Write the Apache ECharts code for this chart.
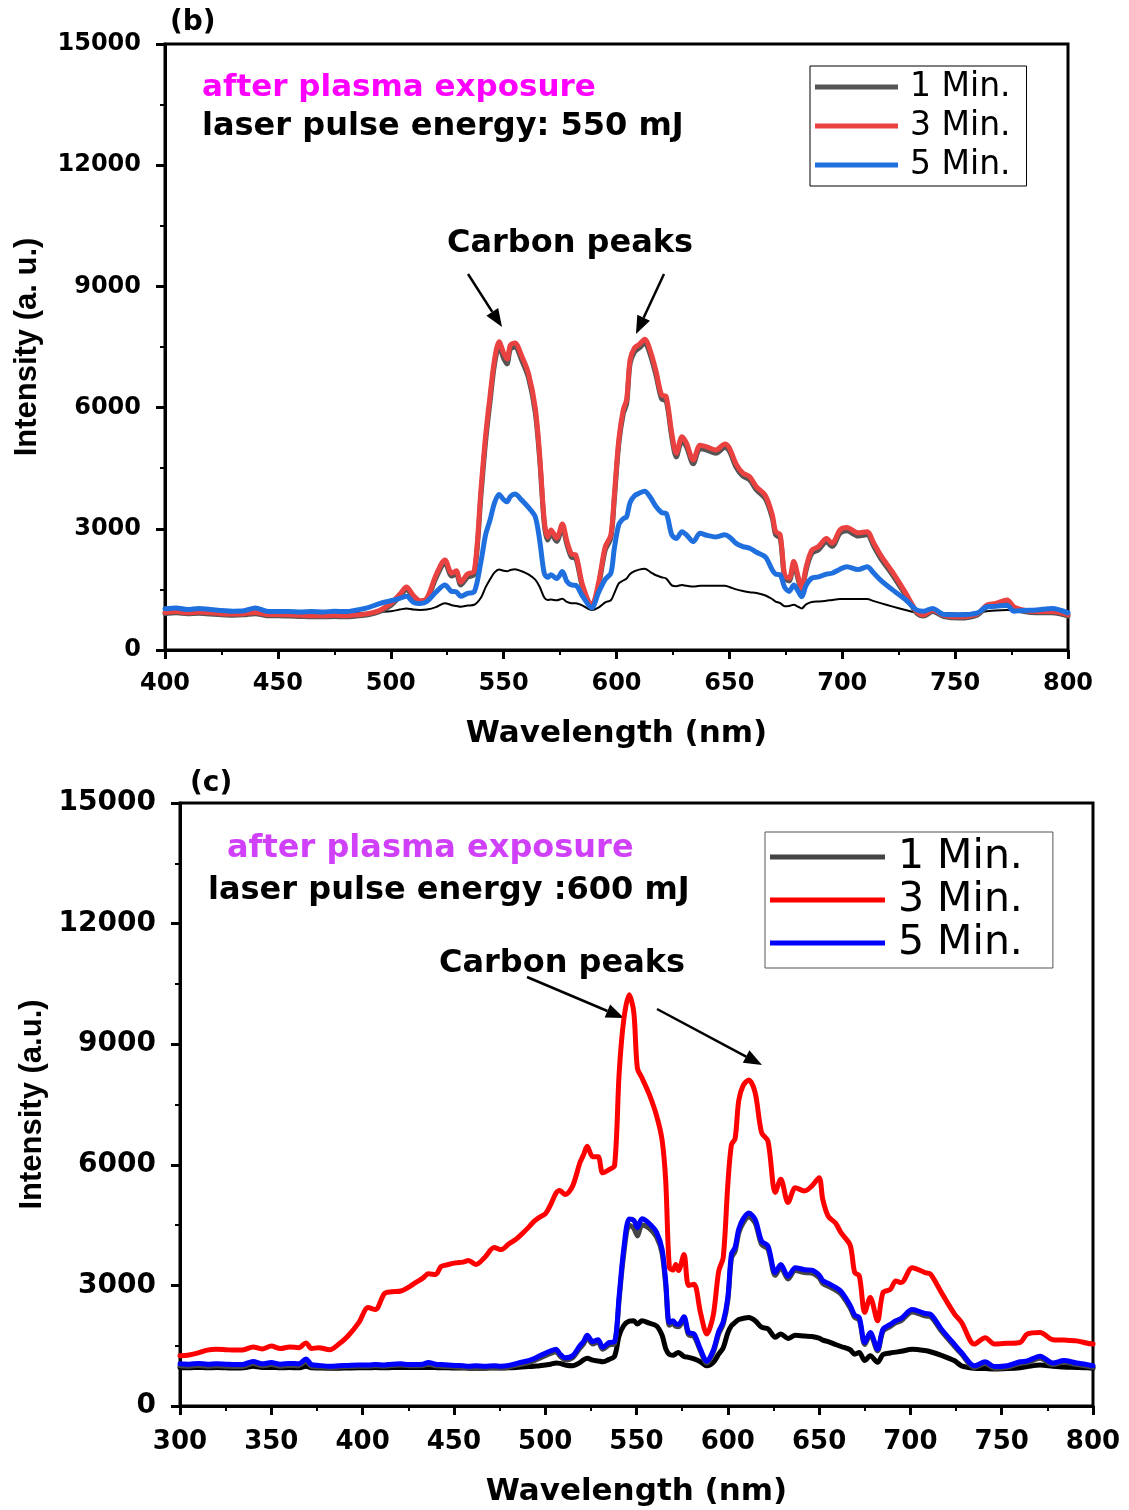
<!DOCTYPE html>
<html>
<head>
<meta charset="utf-8">
<script src="https://cdn.jsdelivr.net/npm/echarts@6.0.0/dist/echarts.min.js"></script>
<style>
  html, body { margin: 0; padding: 0; background: #fff; }
  #chart { width: 1129px; height: 1510px; }
</style>
</head>
<body>
<div id="chart"></div>
<script>
// ---- panel (b): laser pulse energy 550 mJ ----
const wavelengthB = [
  400, 405, 410, 415, 420, 425, 430, 435, 440, 445,
  450, 455, 460, 465, 470, 475, 480, 485, 490, 495,
  500, 504, 507, 510, 513, 516, 520, 524, 527, 529,
  531, 534, 537, 540, 542, 544, 546, 548, 550, 551.5,
  553, 555, 558, 561, 564, 566, 568, 569.5, 571, 573.5,
  576, 578, 580, 582, 585, 589, 592, 595, 597.5, 599,
  601, 603, 604.5, 606, 608, 610, 612.5, 615, 617.5, 620,
  622, 624.5, 626.5, 629, 631, 634, 637, 640, 644, 648,
  650, 653, 656, 659, 662, 666, 669, 670.5, 672.5, 674.5,
  676.5, 678.5, 680.5, 682, 684, 686.5, 689.5, 693, 695.5, 699,
  702, 707, 711, 714, 717, 722, 728, 733, 736, 740,
  745, 752, 760, 764, 768, 773, 776, 780, 786, 793,
  800
];
const b1Min = [
  900, 920, 900, 910, 890, 870, 860, 870, 900, 850,
  850, 840, 830, 820, 820, 830, 820, 840, 870, 950,
  1100, 1330, 1500, 1300, 1170, 1230, 1780, 2150, 1830, 1890,
  1610, 1800, 1870, 3850, 5150, 6150, 7080, 7520, 7220, 7080,
  7450, 7500, 7170, 6740, 5880, 4700, 3120, 2720, 2880, 2690,
  3030, 2620, 2300, 2270, 1540, 1060, 1580, 2470, 2770, 3700,
  5100, 5850, 6100, 7080, 7380, 7470, 7600, 7300, 6800, 6210,
  6170, 5260, 4780, 5180, 5030, 4610, 4980, 4950, 4870, 5010,
  4920, 4520, 4300, 4210, 3960, 3740, 3270, 2850, 2770, 1780,
  1710, 2110, 1740, 1470, 1980, 2390, 2480, 2680, 2560, 2890,
  2950, 2820, 2850, 2560, 2270, 1880, 1360, 910, 840, 950,
  830, 790, 870, 1070, 1110, 1200, 1030, 960, 920, 920,
  840
];
const b3Min = [
  930, 950, 920, 940, 920, 900, 890, 900, 930, 880,
  880, 870, 860, 850, 850, 860, 850, 870, 900, 980,
  1150, 1380, 1560, 1350, 1220, 1280, 1850, 2230, 1900, 1960,
  1680, 1880, 1950, 4000, 5300, 6300, 7200, 7630, 7350, 7200,
  7550, 7600, 7280, 6850, 6000, 4800, 3200, 2800, 2970, 2770,
  3120, 2700, 2380, 2350, 1600, 1100, 1650, 2550, 2850, 3800,
  5200, 5950, 6200, 7180, 7480, 7560, 7690, 7400, 6900, 6310,
  6270, 5360, 4870, 5280, 5120, 4700, 5070, 5030, 4950, 5100,
  5000, 4600, 4380, 4290, 4040, 3820, 3350, 2930, 2850, 1850,
  1780, 2190, 1810, 1530, 2050, 2470, 2560, 2760, 2640, 2970,
  3030, 2900, 2930, 2640, 2350, 1950, 1420, 950, 870, 990,
  860, 820, 900, 1110, 1150, 1240, 1070, 990, 950, 950,
  870
];
const b5Min = [
  1020, 1040, 1000, 1030, 1000, 980, 960, 970, 1040, 960,
  950, 950, 940, 950, 940, 960, 950, 990, 1050, 1150,
  1220, 1280, 1330, 1180, 1150, 1200, 1430, 1610, 1450, 1440,
  1330, 1400, 1440, 2200, 2850, 3220, 3650, 3850, 3720, 3670,
  3800, 3860, 3710, 3530, 3300, 2700, 1900, 1800, 1860, 1770,
  1940, 1700, 1610, 1600, 1330, 1040, 1420, 1750, 1900, 2500,
  3100, 3250, 3300, 3650, 3820, 3880, 3930, 3780, 3550, 3400,
  3380, 2850, 2760, 2930, 2850, 2680, 2890, 2840, 2800, 2850,
  2800, 2640, 2560, 2520, 2420, 2300, 1980, 1880, 1860, 1550,
  1450, 1610, 1450, 1320, 1600, 1780, 1810, 1880, 1900, 2000,
  2060, 1990, 2060, 1900, 1730, 1500, 1250, 990, 960, 1030,
  880, 870, 920, 1070, 1080, 1110, 960, 980, 990, 1030,
  920
];
const bBaseline = [
  940, 950, 940, 945, 940, 935, 930, 930, 935, 930,
  925, 920, 915, 915, 910, 910, 910, 915, 920, 940,
  960, 1000, 1030, 1000, 990, 1000, 1060, 1160, 1110, 1090,
  1070, 1100, 1120, 1300, 1550, 1750, 1920, 1990, 1960, 1950,
  1980, 2000, 1950, 1870, 1740, 1560, 1300, 1240, 1250, 1230,
  1270, 1190, 1160, 1160, 1100, 990, 1050, 1180, 1230, 1400,
  1650, 1720, 1770, 1880, 1950, 1990, 2010, 1930, 1850, 1800,
  1770, 1600, 1580, 1610, 1590, 1570, 1590, 1590, 1590, 1590,
  1560, 1500, 1460, 1430, 1410, 1350, 1260, 1200, 1160, 1080,
  1090, 1120, 1070, 1030, 1130, 1190, 1200, 1220, 1240, 1260,
  1260, 1260, 1260, 1210, 1160, 1080, 990, 920, 910, 920,
  910, 900, 930, 960, 980, 990, 980, 970, 950, 930,
  920
];

// ---- panel (c): laser pulse energy 600 mJ ----
const wavelengthC = [
  300, 305, 310, 315, 320, 325, 330, 335, 340, 345,
  350, 355, 360, 365, 369, 372, 376, 382, 387, 392,
  398, 403, 407, 412, 416, 421, 425, 429, 433, 436,
  440, 443, 447, 451, 455, 458, 462, 467, 472, 476,
  480, 484, 487, 491, 494, 497, 500, 503, 506, 508,
  511, 515, 519, 521, 523, 526, 529, 531.5, 535, 538,
  540.5, 543, 546, 548.5, 550.5, 553, 557, 561, 564, 566,
  568, 570, 571.5, 573, 576, 578.5, 581.5, 585, 588.5, 592,
  595, 597.5, 600, 602, 604, 606, 608.5, 611.5, 615, 618.5,
  622, 626, 629, 633, 637, 642, 646, 650, 652, 655,
  659, 662, 667, 669.5, 672, 675, 678, 682, 685, 689,
  692, 695, 701, 708, 711, 717, 724, 728, 735, 741,
  746, 753, 760, 764, 771, 778, 784, 791, 797, 800
];
const c1Min = [
  1000, 990, 1010, 990, 1000, 990, 980, 990, 1060, 1000,
  1030, 990, 1010, 1000, 1110, 980, 970, 960, 970, 980,
  990, 990, 1000, 990, 1010, 1020, 1000, 1000, 1010, 1040,
  1000, 990, 980, 970, 960, 950, 960, 950, 960, 950,
  970, 1010, 1040, 1080, 1130, 1190, 1250, 1310, 1350, 1250,
  1150, 1200, 1440, 1540, 1700, 1540, 1590, 1410, 1520, 1550,
  2650, 3780, 4500, 4420, 4230, 4500, 4420, 4200, 3800, 3000,
  2010, 2050, 1980, 1970, 2150, 1770, 1730, 1370, 1070, 1330,
  1790, 2040, 2620, 3680, 3850, 4300, 4560, 4700, 4550, 4020,
  3900, 3250, 3450, 3160, 3370, 3320, 3310, 3190, 3050, 2980,
  2880, 2780, 2440, 2200, 2140, 1530, 1780, 1370, 1860, 1980,
  2070, 2120, 2340, 2240, 2220, 1860, 1490, 1290, 960, 1060,
  940, 960, 1060, 1080, 1190, 1030, 1090, 1030, 990, 960
];
const c3Min = [
  1250, 1270, 1320, 1390, 1410, 1400, 1390, 1400, 1470, 1420,
  1490, 1430, 1470, 1450, 1570, 1430, 1450, 1400, 1540, 1740,
  2080, 2450, 2400, 2800, 2840, 2860, 2950, 3070, 3180, 3290,
  3270, 3470, 3520, 3560, 3580, 3620, 3520, 3700, 3940, 3890,
  4030, 4150, 4270, 4450, 4600, 4700, 4780, 5010, 5300, 5360,
  5260, 5470, 6050, 6250, 6460, 6200, 6200, 5800, 5880, 5980,
  8280, 9600, 10230, 9800, 8400, 8160, 7750, 7220, 6620, 5600,
  3450, 3380, 3520, 3370, 3770, 3000, 3030, 2330, 1790, 2250,
  3350, 3700, 5500, 6500, 6650, 7600, 7980, 8110, 7790, 6800,
  6590, 5310, 5640, 5060, 5430, 5350, 5470, 5680, 5140, 4720,
  4550, 4310, 4000, 3320, 3240, 2330, 2700, 2120, 2820, 2900,
  3110, 3070, 3440, 3320, 3280, 2820, 2300, 2080, 1540, 1700,
  1540, 1560, 1580, 1790, 1830, 1650, 1640, 1620, 1560, 1540
];
const c5Min = [
  1050, 1040, 1060, 1040, 1050, 1040, 1030, 1040, 1110, 1050,
  1080, 1040, 1060, 1050, 1170, 1030, 1010, 990, 1000, 1010,
  1020, 1020, 1030, 1020, 1040, 1050, 1030, 1030, 1040, 1080,
  1040, 1030, 1020, 1010, 1000, 990, 1000, 990, 1000, 990,
  1010, 1050, 1090, 1130, 1180, 1250, 1310, 1370, 1410, 1300,
  1200, 1250, 1500, 1600, 1760, 1600, 1650, 1460, 1580, 1600,
  2740, 3900, 4650, 4620, 4440, 4660, 4540, 4320, 3900, 3100,
  2080, 2120, 2040, 2030, 2220, 1830, 1790, 1415, 1110, 1380,
  1850, 2100, 2700, 3780, 3950, 4400, 4660, 4800, 4640, 4100,
  3980, 3320, 3520, 3230, 3440, 3390, 3380, 3260, 3120, 3050,
  2950, 2850, 2500, 2260, 2200, 1580, 1830, 1415, 1910, 2030,
  2120, 2180, 2400, 2300, 2280, 1910, 1540, 1330, 1000, 1100,
  980, 1000, 1100, 1120, 1240, 1070, 1130, 1070, 1030, 1000
];
const cBaseline = [
  960, 950, 960, 950, 955, 950, 945, 950, 990, 955,
  960, 950, 955, 950, 990, 950, 945, 940, 940, 945,
  950, 950, 955, 950, 955, 960, 955, 955, 955, 960,
  955, 950, 950, 945, 945, 940, 940, 940, 945, 945,
  950, 960, 970, 980, 990, 1000, 1020, 1040, 1070, 1060,
  1020, 1000, 1080, 1150, 1190, 1140, 1120, 1100, 1160, 1240,
  1750, 2000, 2110, 2120, 2040, 2120, 2060, 1990, 1760, 1430,
  1280, 1260, 1300, 1330, 1230, 1210, 1170, 1100, 1000, 1080,
  1290, 1450, 1820, 2000, 2080, 2150, 2180, 2200, 2120, 1960,
  1920, 1710, 1790, 1680, 1760, 1740, 1730, 1690, 1640, 1600,
  1530, 1480, 1400, 1290, 1330, 1130, 1250, 1090, 1280, 1320,
  1340, 1360, 1410, 1380, 1350, 1260, 1130, 1000, 940, 930,
  920, 930, 950, 980, 1020, 990, 970, 960, 950, 940
];

const legendNames = ['1 Min.', '3 Min.', '5 Min.'];
const intensityTicks = { min: 0, max: 15000, interval: 3000 };

const pair = (xs, ys) => xs.map((x, i) => [x, ys[i]]);

const BOLD = '"DejaVu Sans", sans-serif';

function xAxisOf(gridIndex, min, labelSize, labelMargin, gap) {
  return {
    gridIndex: gridIndex,
    type: 'value',
    min: min,
    max: 800,
    interval: 50,
    axisLine: { show: true, onZero: false, lineStyle: { color: '#000', width: 3 } },
    axisTick: { show: true, length: 9, lineStyle: { color: '#000', width: 3 } },
    minorTick: { show: true, splitNumber: 2, length: 5, lineStyle: { color: '#000', width: 2 } },
    splitLine: { show: false },
    axisLabel: {
      margin: labelMargin, color: '#000', fontSize: labelSize,
      fontWeight: 'bold', fontFamily: BOLD,
      formatter: (v) => String(v)
    },
    name: 'Wavelength (nm)',
    nameLocation: 'middle',
    nameGap: gap,
    nameTextStyle: { color: '#000', fontSize: 31, fontWeight: 'bold', fontFamily: BOLD }
  };
}

function yAxisOf(gridIndex, name, labelSize, gap) {
  return {
    gridIndex: gridIndex,
    type: 'value',
    min: intensityTicks.min,
    max: intensityTicks.max,
    interval: intensityTicks.interval,
    axisLine: { show: true, lineStyle: { color: '#000', width: 3 } },
    axisTick: { show: true, length: 9, lineStyle: { color: '#000', width: 3 } },
    minorTick: { show: true, splitNumber: 2, length: 5, lineStyle: { color: '#000', width: 2 } },
    splitLine: { show: false },
    axisLabel: {
      margin: 24, color: '#000', fontSize: labelSize,
      fontWeight: 'bold', fontFamily: BOLD,
      formatter: (v) => String(v)
    },
    name: name,
    nameLocation: 'middle',
    nameGap: gap,
    nameTextStyle: { color: '#000', fontSize: 31, fontWeight: 'bold', fontFamily: '"Liberation Sans", Arial, sans-serif' }
  };
}

function line(name, idx, xs, ys, color, width) {
  return {
    name: name,
    type: 'line',
    xAxisIndex: idx,
    yAxisIndex: idx,
    data: pair(xs, ys),
    showSymbol: false,
    symbol: 'none',
    smooth: 0.3,
    animation: false,
    lineStyle: { color: color, width: width, join: 'round', cap: 'round' },
    itemStyle: { color: color }
  };
}

function text(x, y, str, size, color, align) {
  return {
    type: 'text',
    x: x, y: y,
    style: {
      text: str, fill: color,
      fontSize: size, fontWeight: 'bold', fontFamily: BOLD,
      align: align || 'left', verticalAlign: 'middle',
      textAlign: align || 'left', textVerticalAlign: 'middle'
    }
  };
}

function arrow(x1, y1, x2, y2) {
  const a = Math.atan2(y2 - y1, x2 - x1);
  const L = 18, W = 7;
  const bx = x2 - L * Math.cos(a), by = y2 - L * Math.sin(a);
  return [
    { type: 'line', shape: { x1: x1, y1: y1, x2: bx, y2: by }, style: { stroke: '#000', lineWidth: 2.5 } },
    {
      type: 'polygon',
      shape: { points: [[x2, y2], [bx + W * Math.sin(a), by - W * Math.cos(a)], [bx - W * Math.sin(a), by + W * Math.cos(a)]] },
      style: { fill: '#000' }
    }
  ];
}

const chart = echarts.init(document.getElementById('chart'), null, { renderer: 'canvas' });

chart.setOption({
  backgroundColor: '#fff',
  animation: false,
  grid: [
    { left: 165, top: 44, width: 903, height: 606, show: true, borderColor: '#000', borderWidth: 3, backgroundColor: 'transparent' },
    { left: 180, top: 803, width: 913, height: 603, show: true, borderColor: '#000', borderWidth: 3, backgroundColor: 'transparent' }
  ],
  xAxis: [xAxisOf(0, 400, 24, 22, 68), xAxisOf(1, 300, 26, 23, 70)],
  yAxis: [yAxisOf(0, 'Intensity (a. u.)', 24, 122), yAxisOf(1, 'Intensity (a.u.)', 28, 132)],
  legend: [
    {
      data: legendNames,
      orient: 'vertical',
      left: 810, top: 66,
      icon: 'rect', itemWidth: 83, itemHeight: 5, itemGap: 3,
      padding: [3, 16, 3, 5],
      borderColor: '#000', borderWidth: 1,
      selectedMode: false,
      textStyle: { color: '#000', fontSize: 33, lineHeight: 36, fontFamily: BOLD, padding: [0, 0, 0, 7] }
    },
    {
      data: legendNames.map((n) => n + ' (c)'),
      formatter: (n) => n.replace(' (c)', ''),
      orient: 'vertical',
      left: 765, top: 832,
      icon: 'rect', itemWidth: 115, itemHeight: 5, itemGap: 1,
      padding: [4, 30, 4, 5],
      borderColor: '#555', borderWidth: 1,
      selectedMode: false,
      textStyle: { color: '#000', fontSize: 41, lineHeight: 42, fontFamily: BOLD, padding: [0, 0, 0, 8] }
    }
  ],
  series: [
    line('1 Min. baseline', 0, wavelengthB, bBaseline, '#000', 2),
    line('1 Min.', 0, wavelengthB, b1Min, '#555', 5),
    line('3 Min.', 0, wavelengthB, b3Min, '#ea4141', 5),
    line('5 Min.', 0, wavelengthB, b5Min, '#1f70de', 5),

    line('1 Min. baseline (c)', 1, wavelengthC, cBaseline, '#000', 5),
    line('1 Min. (c)', 1, wavelengthC, c1Min, '#444', 5),
    line('5 Min. (c)', 1, wavelengthC, c5Min, '#0000ff', 5),
    line('3 Min. (c)', 1, wavelengthC, c3Min, '#ff0000', 5)
  ],
  graphic: [
    text(170, 23, '(b)', 28, '#000'),
    text(202, 88, 'after plasma exposure', 31, '#ff00ff'),
    text(202, 127, 'laser pulse energy: 550 mJ', 32, '#000'),
    text(570, 244, 'Carbon peaks', 32, '#000', 'center'),
    ...arrow(468, 274, 502, 327),
    ...arrow(664, 274, 636, 334),

    text(190, 784, '(c)', 28, '#000'),
    text(227, 849, 'after plasma exposure', 32, '#d040f8'),
    text(208, 891, 'laser pulse energy :600 mJ', 32, '#000'),
    text(562, 964, 'Carbon peaks', 32, '#000', 'center'),
    ...arrow(527, 977, 624, 1018),
    ...arrow(657, 1009, 762, 1065)
  ]
});
</script>
</body>
</html>
